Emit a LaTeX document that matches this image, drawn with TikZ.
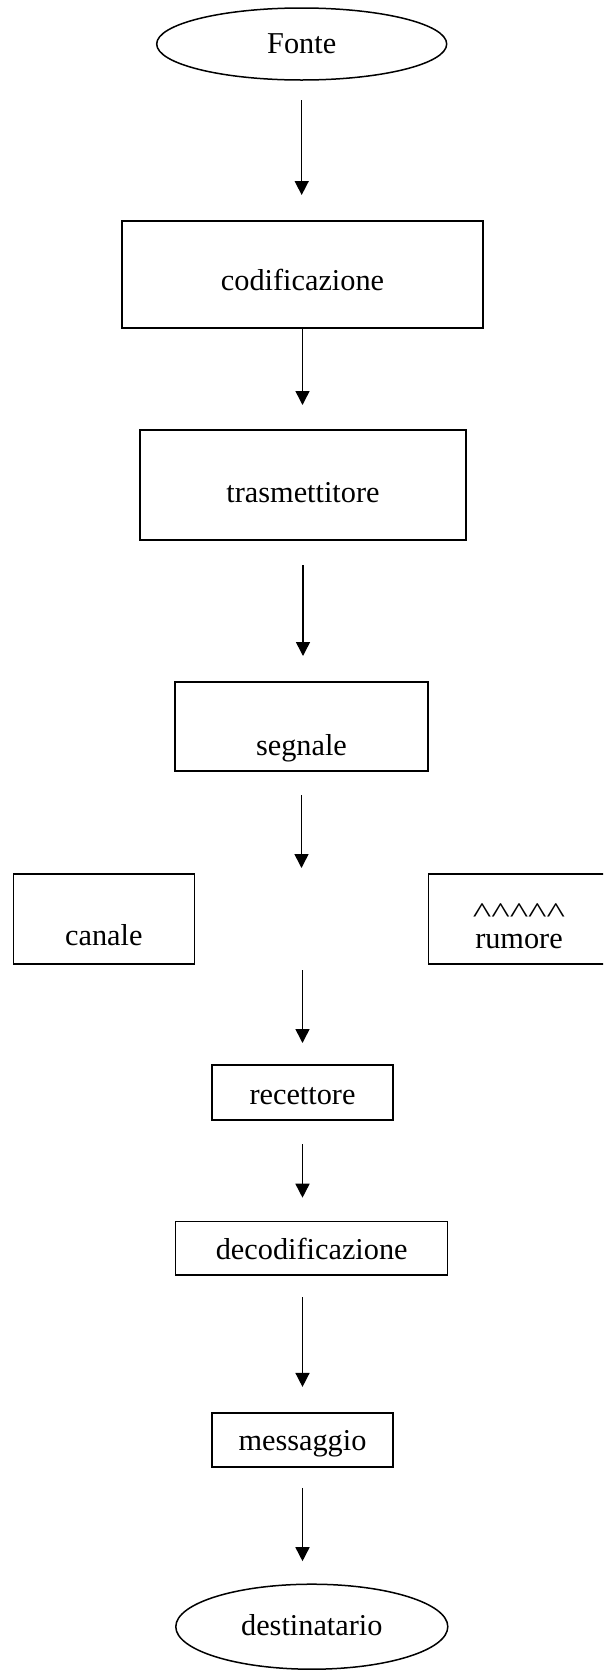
\documentclass[tikz,border=0pt]{standalone}
\usepackage{fontspec}
\setmainfont{Liberation Serif}
\usetikzlibrary{shapes.geometric}
\usetikzlibrary{positioning}
\usetikzlibrary{arrows.meta}
\newcommand{\caret}{\scalebox{1.3}[0.95]{\textasciicircum}}
\newcommand{\carets}{\caret\caret\caret\caret\caret}

\begin{document}
\begin{tikzpicture}
	[x=1pt, y=-1pt, line width=1.5pt, >={Triangle[width=14pt,length=14pt]},
	font=\fontsize{30.3}{36}\selectfont,
	box/.style = {draw, rectangle, inner sep=0pt, outer sep=0pt, text depth=0pt},
	oval/.style = {draw, ellipse, inner sep=0pt, outer sep=0pt, text depth=0pt}]
	\path[use as bounding box, clip] (0,0) rectangle (603,1671);
	\node[oval, minimum width=290pt, minimum height=72pt, text height=18.6pt] (fonte) at (301.7,44) {Fonte};
	\node[box, minimum width=361pt, minimum height=107pt, text height=32pt] (cod) [below=141pt of fonte, xshift=0.8pt] {codificazione};
	\node[box, minimum width=326pt, minimum height=110pt, text height=34.4pt] (trasm) [below=102pt of cod, xshift=0.5pt] {trasmettitore};
	\node[box, minimum width=253pt, minimum height=89pt, text height=58pt] (segnale) [below=142pt of trasm, xshift=-1.5pt] {segnale};
	\node[box, minimum width=181pt, minimum height=90pt, text height=52pt] (canale) [below=103pt of segnale, xshift=-197.7pt] {canale};
	\node[box, minimum width=181pt, minimum height=90pt, text height=58.6pt, align=center] (rumore) [below=103pt of segnale, xshift=217.5pt] {\carets\\[-10pt]rumore};
	\node[box, minimum width=181pt, minimum height=55pt, text height=23pt] (recett) [below=294pt of segnale, xshift=1pt] {recettore};
	\node[box, minimum width=272pt, minimum height=53.5pt, text height=22pt] (decod) [below=101.7pt of recett, xshift=9.2pt] {decodificazione};
	\node[box, minimum width=181pt, minimum height=54pt, text height=22pt] (mess) [below=137.7pt of decod, xshift=-9.2pt] {messaggio};
	\node[oval, minimum width=272pt, minimum height=85pt, text height=18pt] (dest) [below=117.3pt of mess, xshift=9.3pt] {destinatario};
	\coordinate (gapin) at (canale.north -| segnale.south);
	\coordinate (gapout) at (canale.south -| recett.north);
	\draw[->, shorten <=20pt, shorten >=26pt] (fonte.south) -- (cod.north -| fonte.south);
	\draw[->, shorten >=25pt] (cod.south) -- (trasm.north -| cod.south);
	\draw[->, shorten <=25pt, shorten >=26pt] (trasm.south) -- (segnale.north -| trasm.south);
	\draw[->, shorten <=24pt, shorten >=6pt] (segnale.south) -- (gapin);
	\draw[->, shorten <=6pt, shorten >=22pt] (gapout) -- (recett.north);
	\draw[->, shorten <=24pt, shorten >=24pt] (recett.south) -- (decod.north -| recett.south);
	\draw[->, shorten <=22pt, shorten >=26pt] (decod.south -| mess.north) -- (mess.north);
	\draw[->, shorten <=21pt, shorten >=23pt] (mess.south) -- (dest.north -| mess.south);
\end{tikzpicture}
\end{document}
